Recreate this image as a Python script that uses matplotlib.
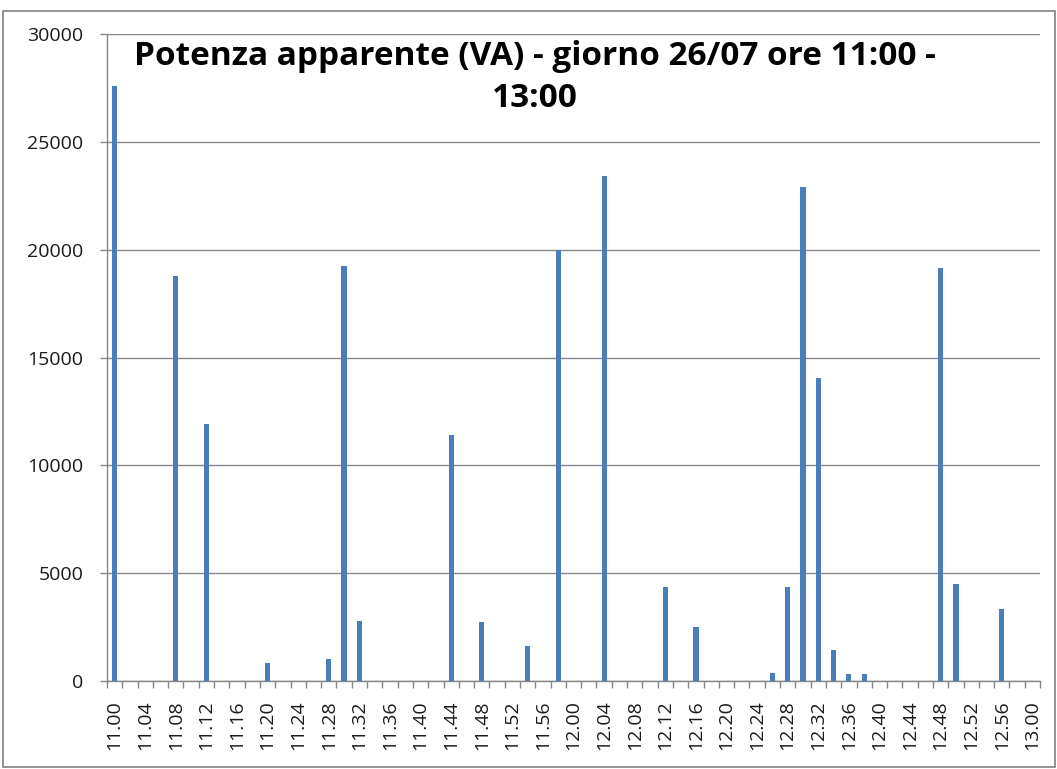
import matplotlib
matplotlib.use("Agg")
import matplotlib.pyplot as plt
from matplotlib.patches import Rectangle
import numpy as np

# Two-minute slots from 11.00 to 13.00
slots = [f"{11 + m // 60}.{m % 60:02d}" for m in range(0, 121, 2)]

# Apparent power (VA) read per slot; slots not listed are zero
active_slots = ["11.00", "11.08", "11.12", "11.20", "11.28", "11.30", "11.32",
                "11.44", "11.48", "11.54", "11.58", "12.04", "12.12", "12.16",
                "12.26", "12.28", "12.30", "12.32", "12.34", "12.36", "12.38",
                "12.48", "12.50", "12.56"]
active_values = [27600, 18800, 11900, 850, 1000, 19250, 2780,
                 11400, 2750, 1620, 20000, 23400, 4360, 2500,
                 370, 4360, 22900, 14050, 1440, 320, 320,
                 19150, 4500, 3340]

y_ticks = [0, 5000, 10000, 15000, 20000, 25000, 30000]
title = "Potenza apparente (VA) - giorno 26/07 ore 11:00 -\n13:00"

values = np.zeros(len(slots))
for s, v in zip(active_slots, active_values):
    values[slots.index(s)] = v

plt.rcParams["font.family"] = ["Open Sans", "DejaVu Sans"]

fig = plt.figure(figsize=(10.57, 7.69), dpi=100)
ax = fig.add_axes([0.1012, 0.1144, 0.8828, 0.8414])

x = np.arange(len(slots))
ax.bar(x, values, width=0.34, color="#4A7EBB", zorder=3)

ax.set_xlim(-0.5, len(slots) - 0.5)
ax.set_ylim(0, 30000)
ax.set_yticks(y_ticks)
ax.set_yticklabels([str(t) for t in y_ticks])
ax.yaxis.grid(True, color="#868686", linewidth=1.0, zorder=0)
ax.set_axisbelow(True)

# labels every 4 minutes, tick marks between slots
ax.set_xticks(x[::2])
ax.set_xticklabels(slots[::2], rotation=90)
ax.set_xticks(np.arange(-0.5, len(slots), 1), minor=True)
ax.tick_params(axis="x", which="major", length=0, pad=14, labelsize=14,
               labelcolor="#1a1a1a")
ax.tick_params(axis="x", which="minor", length=5, color="#868686", width=1)
ax.tick_params(axis="y", length=5, color="#868686", width=1, pad=12,
               labelsize=14, labelcolor="#1a1a1a")

for side in ("top", "right"):
    ax.spines[side].set_visible(False)
for side in ("left", "bottom"):
    ax.spines[side].set_color("#868686")
    ax.spines[side].set_linewidth(1.0)

ax.text(0.459, 0.99, title, transform=ax.transAxes, ha="center", va="top",
        fontsize=24, fontweight="bold", color="#000000", linespacing=1.36,
        zorder=5)

# chart frame
fig.patches.append(Rectangle((0.003, 0.002), 0.995, 0.984,
                             transform=fig.transFigure, fill=False,
                             edgecolor="#808080", linewidth=1.2))

fig.savefig("out.png", dpi=100, facecolor="white")
